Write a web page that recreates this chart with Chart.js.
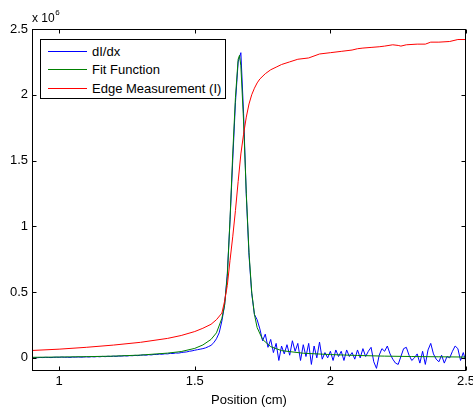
<!DOCTYPE html>
<html lang="en">

<head>
    <meta charset="UTF-8">
    <title>Edge Measurement</title>
    <script src="https://cdn.jsdelivr.net/npm/chart.js"></script>
    <style>
        body {
            margin: 0;
            background-color: #fff;
        }

        .chart-wrap {
            position: relative;
            width: 473px;
            height: 408px;
        }

        .axes-legend {
            position: absolute;
            box-sizing: border-box;
            width: 186px;
            height: 60px;
            padding-top: 2px;
            border: 1px solid #000;
            background: #fff;
            font-family: 'Liberation Sans', Arial, sans-serif;
            font-size: 13px;
            color: #000;
            white-space: nowrap;
        }

        .axes-legend .row {
            display: flex;
            align-items: center;
            height: 18.5px;
        }

        .axes-legend .swatch {
            width: 39px;
            height: 0;
            border-top: 1px solid;
            margin: 0 5px 0 7px;
        }

        .axes-legend .name {
            line-height: 1;
        }
    </style>
</head>

<body>
    <div class="chart-wrap">
        <canvas id="edgeChart" width="473" height="408"></canvas>
        <div class="axes-legend" id="legend"></div>
    </div>

    <script>
        // values are in units of 10^6 (see the exponent label on the y axis)
        const xTicks = [1, 1.5, 2, 2.5];
        const yTicks = [0, 0.5, 1, 1.5, 2, 2.5];
        const seriesNames = ['dI/dx', 'Fit Function', 'Edge Measurement (I)'];

        const derivX = [
            0.90, 0.91, 0.92, 0.93, 0.94, 0.95, 0.96, 0.97, 0.98, 0.99,
            1.00, 1.01, 1.02, 1.03, 1.04, 1.05, 1.06, 1.07, 1.08, 1.09,
            1.10, 1.11, 1.12, 1.13, 1.14, 1.15, 1.16, 1.17, 1.18, 1.19,
            1.20, 1.21, 1.22, 1.23, 1.24, 1.25, 1.26, 1.27, 1.28, 1.29,
            1.30, 1.31, 1.32, 1.33, 1.34, 1.35, 1.36, 1.37, 1.38, 1.39,
            1.40, 1.41, 1.42, 1.43, 1.44, 1.45, 1.46, 1.47, 1.48, 1.49,
            1.50, 1.51, 1.52, 1.53, 1.54, 1.55, 1.56, 1.57, 1.58, 1.59,
            1.60, 1.61, 1.62, 1.63, 1.64, 1.65, 1.66, 1.67, 1.68, 1.69,
            1.70, 1.71, 1.72, 1.73, 1.74, 1.75, 1.76, 1.77, 1.78, 1.79,
            1.80, 1.81, 1.82, 1.83, 1.84, 1.85, 1.86, 1.87, 1.88, 1.89,
            1.90, 1.91, 1.92, 1.93, 1.94, 1.95, 1.96, 1.97, 1.98, 1.99,
            2.00, 2.01, 2.02, 2.03, 2.04, 2.05, 2.06, 2.07, 2.08, 2.09,
            2.10, 2.11, 2.12, 2.13, 2.14, 2.15, 2.16, 2.17, 2.18, 2.19,
            2.20, 2.21, 2.22, 2.23, 2.24, 2.25, 2.26, 2.27, 2.28, 2.29,
            2.30, 2.31, 2.32, 2.33, 2.34, 2.35, 2.36, 2.37, 2.38, 2.39,
            2.40, 2.41, 2.42, 2.43, 2.44, 2.45, 2.46, 2.47, 2.48, 2.49,
            2.50
        ];
        const derivY = [
            0.000, 0.002, 0.001, 0.003, 0.002, 0.004, 0.003, 0.002, 0.004, 0.005,
            0.004, 0.006, 0.004, 0.005, 0.003, 0.006, 0.005, 0.007, 0.005, 0.006,
            0.008, 0.006, 0.009, 0.007, 0.010, 0.008, 0.011, 0.009, 0.012, 0.010,
            0.013, 0.011, 0.014, 0.013, 0.016, 0.014, 0.017, 0.016, 0.019, 0.017,
            0.020, 0.022, 0.020, 0.024, 0.022, 0.026, 0.025, 0.029, 0.027, 0.031,
            0.030, 0.034, 0.033, 0.037, 0.036, 0.040, 0.043, 0.045, 0.050, 0.053,
            0.058, 0.062, 0.066, 0.070, 0.076, 0.085, 0.095, 0.115, 0.145, 0.19,
            0.28, 0.40, 0.64, 1.04, 1.50, 1.94, 2.25, 2.32, 1.86, 1.24,
            0.78, 0.49, 0.33, 0.29, 0.22, 0.13, 0.18, 0.08, 0.14, 0.04,
            0.11, -0.02, 0.09, 0.03, 0.10, 0.02, 0.13, 0.05, 0.11, -0.02,
            0.10, 0.01, 0.11, -0.05, 0.09, 0.00, 0.12, -0.01, 0.04, 0.00,
            0.05, -0.02, 0.06, 0.01, 0.05, -0.02, 0.06, 0.01, 0.04, -0.01,
            0.06, 0.00, 0.07, 0.01, 0.05, 0.08, -0.03, -0.08, 0.02, 0.07,
            0.05, 0.09, 0.03, -0.01, -0.04, -0.05, 0.01, 0.07, 0.08, 0.02,
            -0.02, 0.00, 0.03, -0.04, 0.05, -0.05, 0.06, 0.11, 0.03, -0.01,
            -0.03, 0.02, -0.04, 0.01, 0.00, 0.05, 0.09, 0.07, -0.02, 0.04,
            -0.03
        ];

        const fitX = [
            0.90, 1.00, 1.10, 1.20, 1.30, 1.40, 1.45, 1.50, 1.53, 1.56,
            1.58, 1.60, 1.61, 1.62, 1.63, 1.64, 1.65, 1.66, 1.665, 1.67,
            1.68, 1.69, 1.70, 1.71, 1.72, 1.73, 1.75, 1.78, 1.82, 1.90,
            2.00, 2.10, 2.20, 2.30, 2.40, 2.50
        ];
        const fitY = [
            0.004, 0.006, 0.009, 0.013, 0.021, 0.036, 0.048, 0.072, 0.098, 0.14,
            0.19, 0.30, 0.40, 0.62, 1.05, 1.55, 1.98, 2.27, 2.30, 2.22,
            1.80, 1.25, 0.80, 0.50, 0.33, 0.23, 0.14, 0.085, 0.055, 0.035,
            0.025, 0.018, 0.013, 0.010, 0.008, 0.006
        ];

        const edgeX = [
            0.90, 1.00, 1.10, 1.20, 1.30, 1.40, 1.45, 1.50, 1.53, 1.56,
            1.58, 1.60, 1.61, 1.62, 1.63, 1.64, 1.65, 1.66, 1.67, 1.68,
            1.69, 1.70, 1.71, 1.72, 1.73, 1.74, 1.76, 1.78, 1.80, 1.82,
            1.85, 1.88, 1.92, 1.96, 2.00, 2.04, 2.08, 2.10, 2.12, 2.15,
            2.18, 2.20, 2.23, 2.25, 2.26, 2.28, 2.32, 2.35, 2.37, 2.40,
            2.44, 2.47, 2.50
        ];
        const edgeY = [
            0.056, 0.066, 0.080, 0.097, 0.118, 0.148, 0.17, 0.20, 0.225, 0.255,
            0.29, 0.34, 0.43, 0.55, 0.74, 0.92, 1.12, 1.34, 1.55, 1.70,
            1.83, 1.93, 2.00, 2.05, 2.09, 2.12, 2.16, 2.19, 2.21, 2.23,
            2.25, 2.27, 2.28, 2.31, 2.32, 2.33, 2.34, 2.35, 2.355, 2.36,
            2.365, 2.37, 2.38, 2.375, 2.37, 2.38, 2.385, 2.385, 2.40, 2.40,
            2.405, 2.42, 2.42
        ];

        const fontFamily = "'Liberation Sans', Arial, sans-serif";
        const lineColors = ['#0000ff', '#008000', '#ff0000'];

        function toPoints(xs, ys) {
            return xs.map((x, i) => ({ x: x, y: ys[i] }));
        }

        // box, inner ticks and exponent label, MATLAB style
        const matlabAxes = {
            id: 'matlabAxes',
            afterDraw(chart) {
                const { ctx, chartArea: a, scales } = chart;
                const left = Math.round(a.left) + 0.5;
                const right = Math.round(a.right) - 0.5;
                const top = Math.round(a.top) + 0.5;
                const bottom = Math.round(a.bottom) - 0.5;
                ctx.save();
                ctx.strokeStyle = '#000';
                ctx.lineWidth = 1;

                ctx.beginPath();
                xTicks.forEach(v => {
                    const px = Math.round(scales.x.getPixelForValue(v)) + 0.5;
                    ctx.moveTo(px, bottom); ctx.lineTo(px, bottom - 4);
                    ctx.moveTo(px, top); ctx.lineTo(px, top + 4);
                });
                yTicks.forEach(v => {
                    const py = Math.round(scales.y.getPixelForValue(v)) + 0.5;
                    ctx.moveTo(left, py); ctx.lineTo(left + 4, py);
                    ctx.moveTo(right, py); ctx.lineTo(right - 4, py);
                });
                ctx.stroke();
                ctx.strokeRect(left, top, right - left, bottom - top);

                ctx.fillStyle = '#000';
                ctx.textBaseline = 'alphabetic';
                ctx.font = '12px ' + fontFamily;
                ctx.fillText('x 10', a.left, a.top - 7);
                const w = ctx.measureText('x 10').width;
                ctx.font = '8px ' + fontFamily;
                ctx.fillText('6', a.left + w + 0.5, a.top - 14);
                ctx.restore();
            }
        };

        const tickFont = { family: fontFamily, size: 13 };

        const chart = new Chart(document.getElementById('edgeChart').getContext('2d'), {
            type: 'line',
            data: {
                datasets: [{
                    label: seriesNames[0],
                    data: toPoints(derivX, derivY),
                    borderColor: lineColors[0],
                    borderWidth: 1,
                    order: 3
                }, {
                    label: seriesNames[1],
                    data: toPoints(fitX, fitY),
                    borderColor: lineColors[1],
                    borderWidth: 1,
                    order: 2
                }, {
                    label: seriesNames[2],
                    data: toPoints(edgeX, edgeY),
                    borderColor: lineColors[2],
                    borderWidth: 1,
                    order: 1
                }]
            },
            options: {
                responsive: false,
                devicePixelRatio: 1,
                animation: false,
                layout: { padding: { top: 29, right: 7, left: 0, bottom: 0 } },
                elements: {
                    point: { radius: 0 },
                    line: { tension: 0, fill: false }
                },
                plugins: {
                    legend: { display: false },
                    tooltip: { enabled: false }
                },
                scales: {
                    x: {
                        type: 'linear',
                        min: 0.9,
                        max: 2.5,
                        grid: { display: false, drawTicks: false },
                        border: { display: false },
                        afterBuildTicks: scale => { scale.ticks = xTicks.map(v => ({ value: v })); },
                        afterFit: scale => {
                            scale.height = 37;
                            scale.paddingLeft = 0;
                            scale.paddingRight = 0;
                        },
                        ticks: {
                            padding: 3,
                            maxRotation: 0,
                            color: '#000',
                            font: tickFont,
                            callback: v => String(v)
                        },
                        title: {
                            display: true,
                            text: 'Position (cm)',
                            color: '#000',
                            padding: 0,
                            font: tickFont
                        }
                    },
                    y: {
                        type: 'linear',
                        min: -0.1,
                        max: 2.5,
                        grid: { display: false, drawTicks: false },
                        border: { display: false },
                        afterBuildTicks: scale => { scale.ticks = yTicks.map(v => ({ value: v })); },
                        afterFit: scale => { scale.width = 32; },
                        ticks: {
                            padding: 4,
                            color: '#000',
                            font: tickFont,
                            callback: v => String(v)
                        }
                    }
                }
            },
            plugins: [matlabAxes]
        });

        // legend box in the upper left corner of the axes
        const legendEl = document.getElementById('legend');
        legendEl.style.left = (Math.round(chart.chartArea.left) + 8) + 'px';
        legendEl.style.top = (Math.round(chart.chartArea.top) + 10) + 'px';
        chart.data.datasets.forEach((ds, i) => {
            const row = document.createElement('div');
            row.className = 'row';
            const swatch = document.createElement('span');
            swatch.className = 'swatch';
            swatch.style.borderTopColor = ds.borderColor;
            const name = document.createElement('span');
            name.className = 'name';
            name.textContent = ds.label;
            row.appendChild(swatch);
            row.appendChild(name);
            legendEl.appendChild(row);
        });
    </script>
</body>

</html>
